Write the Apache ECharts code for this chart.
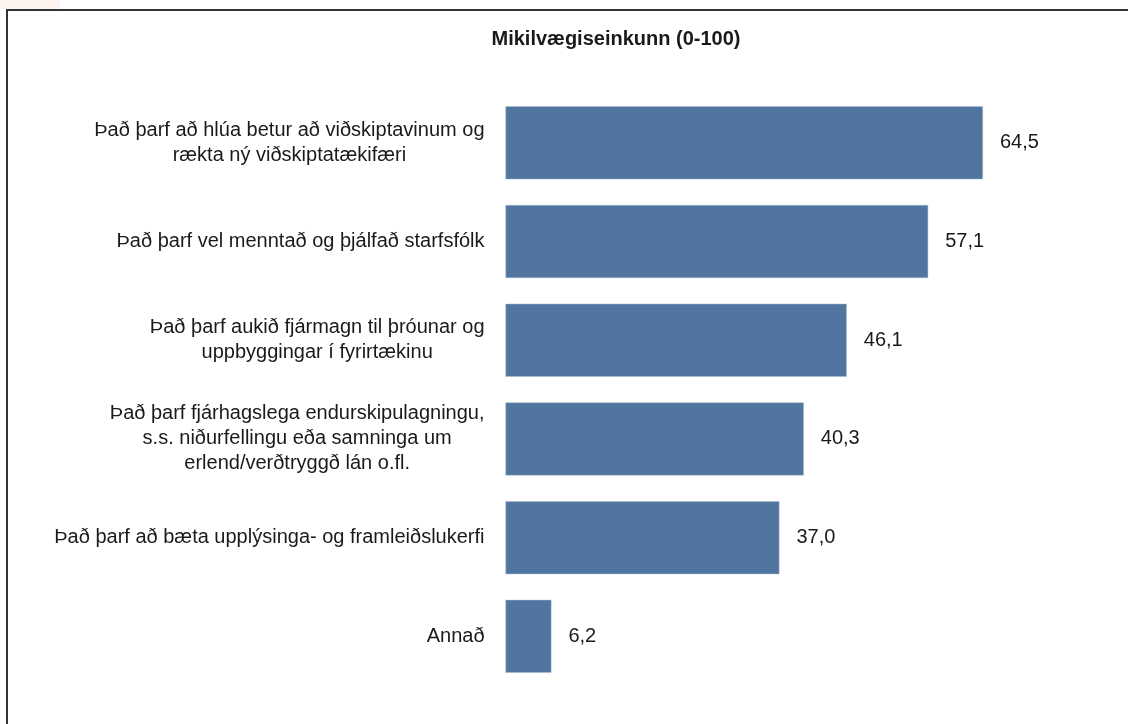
<!DOCTYPE html>
<html>
<head>
<meta charset="utf-8">
<script src="https://cdn.jsdelivr.net/npm/echarts@6/dist/echarts.min.js"></script>
<style>
  html, body { margin: 0; padding: 0; background: #fff; }
  #chart { width: 1128px; height: 724px; }
</style>
</head>
<body>
<div id="chart"></div>
<script>
// flokkar (efst til neðst)
const categories = [
  "Það þarf að hlúa betur að viðskiptavinum og\nrækta ný viðskiptatækifæri",
  "Það þarf vel menntað og þjálfað starfsfólk",
  "Það þarf aukið fjármagn til þróunar og\nuppbyggingar í fyrirtækinu",
  "Það þarf fjárhagslega endurskipulagningu,\ns.s. niðurfellingu eða samninga um\nerlend/verðtryggð lán o.fl.",
  "Það þarf að bæta upplýsinga- og framleiðslukerfi",
  "Annað"
];
const values = [64.5, 57.1, 46.1, 40.3, 37.0, 6.2];
const chartTitle = "Mikilvægiseinkunn (0-100)";

const myChart = echarts.init(document.getElementById("chart"));

function fmt(v) {
  return v.toFixed(1).replace(".", ",");
}

const option = {
  animation: false,
  textStyle: { fontFamily: "Liberation Sans, Arial, sans-serif" },
  title: {
    text: chartTitle,
    left: 611,
    textAlign: "center",
    top: 24,
    textStyle: { fontSize: 20, fontWeight: "bold", color: "#1a1a1a" }
  },
  graphic: [
    { type: "rect", shape: { x: 0, y: 0, width: 60, height: 9 }, style: { fill: "#fdf3ef" }, silent: true },
    { type: "rect", shape: { x: 7, y: 10, width: 1200, height: 800 }, style: { fill: null, stroke: "#333", lineWidth: 2 }, silent: true }
  ],
  grid: {
    left: 505.5,
    right: 30.3,
    top: 93.5,
    bottom: 38.3,
    containLabel: false
  },
  xAxis: {
    type: "value",
    min: 0,
    max: 80,
    show: false
  },
  yAxis: {
    type: "category",
    inverse: true,
    data: categories,
    axisLine: { show: false },
    axisTick: { show: false },
    axisLabel: {
      margin: 21,
      color: "#1a1a1a",
      fontSize: 20,
      lineHeight: 25,
      formatter: function (val) {
        return val.split("\n").map(function (s) { return "{c|" + s + "}"; }).join("\n");
      },
      rich: {
        c: { align: "center", fontSize: 20, lineHeight: 25, color: "#1a1a1a" }
      }
    }
  },
  series: [
    {
      type: "bar",
      data: values,
      barCategoryGap: "26%",
      itemStyle: {
        color: "#50769f",
        borderColor: "#a9bcd2",
        borderWidth: 0.5
      },
      label: {
        show: true,
        position: "right",
        distance: 17,
        fontSize: 20,
        color: "#1a1a1a",
        formatter: function (p) { return fmt(p.value); }
      }
    }
  ]
};

myChart.setOption(option);
window.addEventListener("resize", () => { myChart.resize(); });
</script>
</body>
</html>
